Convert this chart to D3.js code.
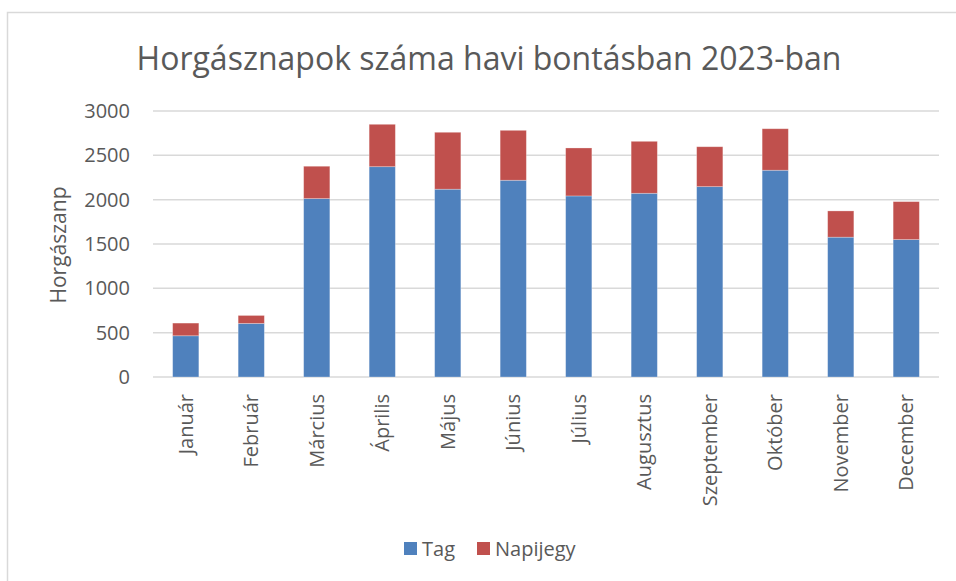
<!DOCTYPE html>
<html>
<head>
<meta charset="utf-8">
<script src="https://cdn.jsdelivr.net/npm/d3@7"></script>
<style>
  body { margin: 0; background: #fff; }
  text { font-family: "Open Sans", sans-serif; fill: #595959; }
</style>
</head>
<body>
<svg width="956" height="581"></svg>
<script>
const width = 956, height = 581;
const svg = d3.select("svg");

// Data
const months = ["Január", "Február", "Március", "Április", "Május", "Június",
    "Július", "Augusztus", "Szeptember", "Október", "November", "December"];
const tag = [465, 604, 2012, 2372, 2118, 2219, 2042, 2072, 2147, 2332, 1577, 1550];
const napijegy = [143, 90, 365, 478, 642, 563, 541, 586, 450, 468, 296, 428];
const yTicks = [0, 500, 1000, 1500, 2000, 2500, 3000];
const seriesNames = ["Tag", "Napijegy"];
const colors = ["#4F81BD", "#C0504D"];

const rows = months.map((m, i) => ({ month: m, Tag: tag[i], Napijegy: napijegy[i] }));
const stacked = d3.stack().keys(seriesNames)(rows);

const plot = { left: 153, right: 939, top: 111, bottom: 377 };

// chart frame
svg.append("rect")
    .attr("x", 7.5).attr("y", 12.5)
    .attr("width", 1000).attr("height", 1000)
    .attr("fill", "none")
    .attr("stroke", "#d9d9d9")
    .attr("stroke-width", 1.5);

const x = d3.scaleBand()
    .domain(months)
    .range([plot.left, plot.right])
    .paddingInner(0.6)
    .paddingOuter(0.3);

const y = d3.scaleLinear()
    .domain([0, 3000])
    .range([plot.bottom, plot.top]);

// gridlines
svg.append("g")
    .selectAll("line")
    .data(yTicks)
    .enter().append("line")
    .attr("x1", plot.left)
    .attr("x2", plot.right)
    .attr("y1", d => y(d))
    .attr("y2", d => y(d))
    .attr("stroke", "#d9d9d9")
    .attr("stroke-width", 1.5);

// y axis labels
const yAxis = svg.append("g")
    .attr("transform", `translate(130,0)`)
    .call(d3.axisLeft(y).tickValues(yTicks).tickFormat(d3.format("d")).tickSize(0).tickPadding(0));
yAxis.select(".domain").remove();
yAxis.selectAll(".tick text")
    .style("font-size", "20px")
    .style("font-family", "Open Sans, sans-serif")
    .attr("fill", "#595959");

// bars
svg.selectAll(".series")
    .data(stacked)
    .enter().append("g")
    .attr("class", "series")
    .attr("fill", (d, i) => colors[i])
    .selectAll("rect")
    .data(d => d)
    .enter().append("rect")
    .attr("x", d => x(d.data.month))
    .attr("y", d => y(d[1]))
    .attr("width", x.bandwidth())
    .attr("height", d => y(d[0]) - y(d[1]))
    .attr("stroke", "rgba(255,255,255,0.35)")
    .attr("stroke-width", 0.8);

// x axis labels, rotated
const xAxis = svg.append("g")
    .attr("transform", `translate(0,${plot.bottom})`)
    .call(d3.axisBottom(x).tickSize(0).tickPadding(0));
xAxis.select(".domain").remove();
xAxis.selectAll(".tick text")
    .attr("transform", "translate(0,17) rotate(-90)")
    .attr("dy", "0.35em")
    .attr("x", 0)
    .attr("y", 0)
    .style("text-anchor", "end")
    .style("font-size", "20px")
    .style("font-family", "Open Sans, sans-serif")
    .attr("fill", "#595959");

// title
svg.append("text")
    .attr("x", 489)
    .attr("y", 70)
    .attr("text-anchor", "middle")
    .style("font-size", "32px")
    .text("Horgásznapok száma havi bontásban 2023-ban");

// y axis title
svg.append("text")
    .attr("transform", `translate(66,245) rotate(-90)`)
    .attr("text-anchor", "middle")
    .style("font-size", "21px")
    .text("Horgászanp");

// legend
const legend = svg.append("g").attr("transform", "translate(404,549)");
const legendX = [0, 73];
seriesNames.forEach((name, i) => {
    const g = legend.append("g").attr("transform", `translate(${legendX[i]},0)`);
    g.append("rect")
        .attr("x", 0).attr("y", -7)
        .attr("width", 13).attr("height", 13)
        .attr("fill", colors[i]);
    g.append("text")
        .attr("x", 18).attr("y", 0)
        .attr("dy", "0.35em")
        .style("font-size", "20px")
        .text(name);
});
</script>
</body>
</html>
